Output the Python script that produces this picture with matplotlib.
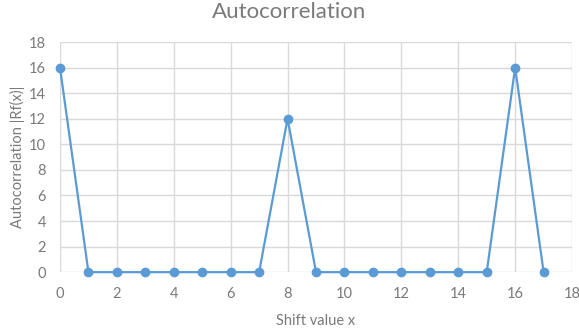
import matplotlib
matplotlib.use("Agg")
import matplotlib.pyplot as plt

shift = list(range(18))
autocorr = [16, 0, 0, 0, 0, 0, 0, 0, 12, 0, 0, 0, 0, 0, 0, 0, 16, 0]
xticks = list(range(0, 19, 2))
yticks = list(range(0, 19, 2))

plt.rcParams['font.family'] = ['Lato', 'DejaVu Sans']
txt = '#7a7a7a'
fig = plt.figure(figsize=(5.79, 3.36), dpi=100)
ax = fig.add_axes([0.1036, 0.190, 0.8844, 0.685])
ax.plot(shift, autocorr, color='#5B9BD5', lw=1.6, marker='o', ms=6, zorder=3, clip_on=False)
ax.set_xlim(0, 18)
ax.set_ylim(0, 18)
ax.set_xticks(xticks)
ax.set_yticks(yticks)
ax.grid(True, color='#D9D9D9', lw=1)
ax.set_axisbelow(True)
for s in ax.spines.values():
    s.set_visible(False)
ax.tick_params(axis='x', length=0, labelsize=10.5, labelcolor=txt, pad=11)
ax.tick_params(axis='y', length=0, labelsize=10.5, labelcolor=txt, pad=10)
fig.text(0.5, 1 - 12/336, 'Autocorrelation', fontsize=16, color=txt, ha='center', va='center')
ax.set_xlabel('Shift value x', fontsize=10.5, color=txt, labelpad=9)
ax.set_ylabel('Autocorrelation |Rf(x)|', fontsize=10.5, color=txt, labelpad=3)
fig.savefig('out.png', dpi=100)
